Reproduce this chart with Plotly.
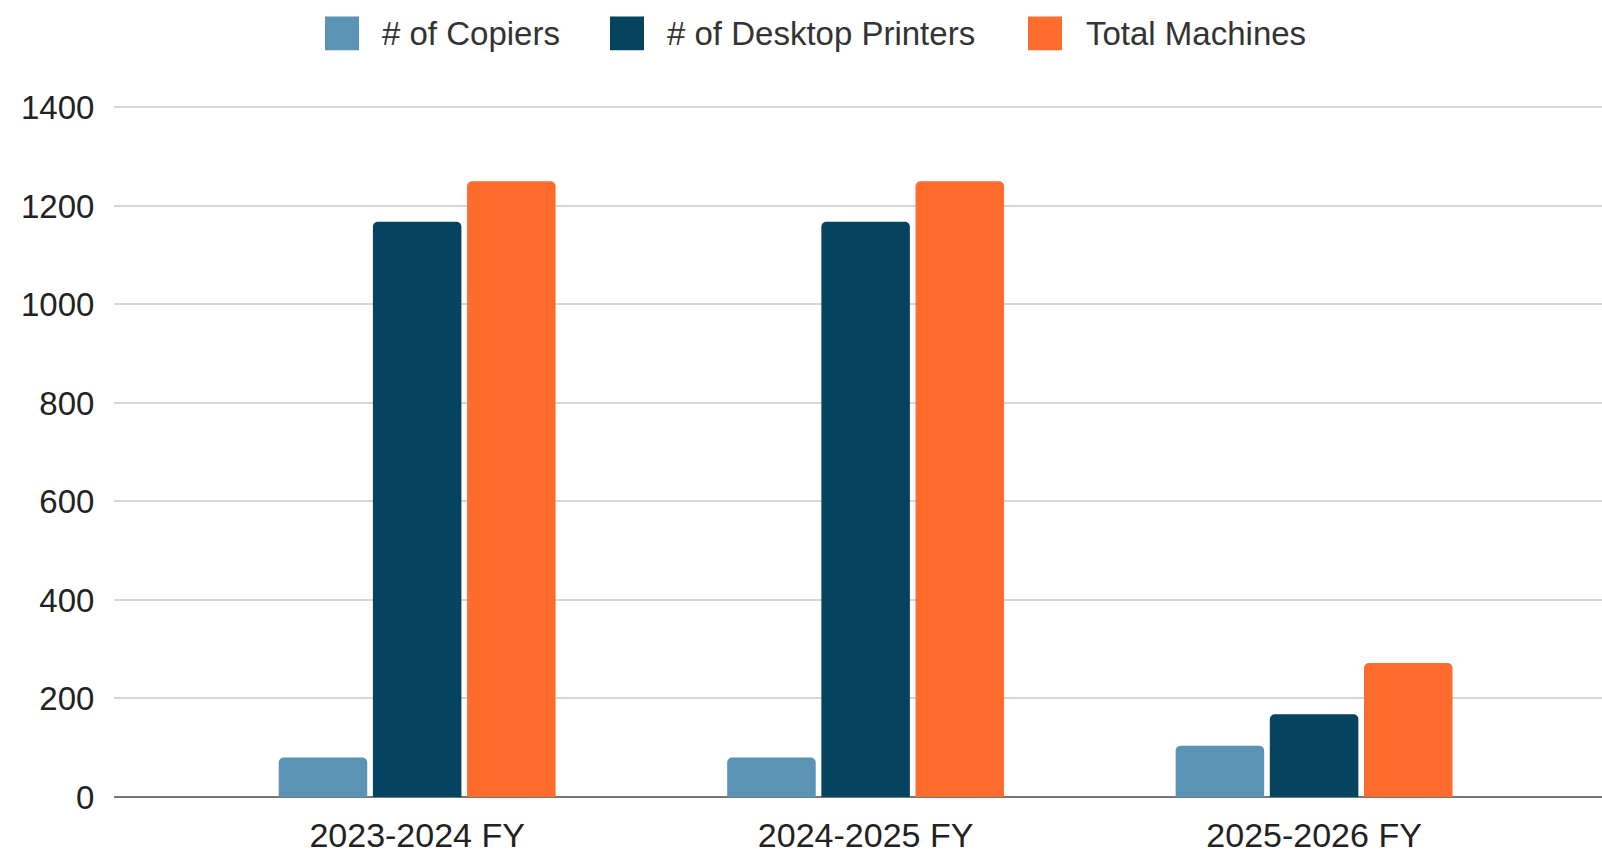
import plotly.graph_objects as go

categories = ["2023-2024 FY", "2024-2025 FY", "2025-2026 FY"]
copiers = [80, 80, 104]
desktop_printers = [1168, 1168, 168]
total_machines = [1250, 1250, 272]
y_ticks = [0, 200, 400, 600, 800, 1000, 1200, 1400]

series_names = ["# of Copiers", "# of Desktop Printers", "Total Machines"]
series_values = [copiers, desktop_printers, total_machines]
series_colors = ["#5a93b3", "#05435f", "#ff6d2e"]

FONT = "Liberation Sans, Arial, sans-serif"
W, H = 1602, 854
ML, MR, MT, MB = 114, 0, 105, 54
PW, PH = W - ML - MR, H - MT - MB

def px(x):
    return (x - ML) / PW

def py(y):
    return (H - MB - y) / PH

fig = go.Figure()
for name, vals, color in zip(series_names, series_values, series_colors):
    fig.add_trace(go.Bar(x=categories, y=vals, name=name, marker_color=color,
                         marker_line_width=0, showlegend=False))

# custom legend (large rounded swatches like the reference)
legend_square_left = [325, 610, 1028]
legend_text_left = [380, 665, 1084]
sq = 34
ly = 33
shapes = []
annotations = []
for name, color, sx, tx in zip(series_names, series_colors, legend_square_left, legend_text_left):
    shapes.append(dict(type="rect", xref="paper", yref="paper",
                       x0=px(sx), x1=px(sx + sq), y0=py(ly + sq / 2), y1=py(ly - sq / 2),
                       fillcolor=color, line=dict(width=0)))
    annotations.append(dict(text=name, xref="paper", yref="paper", x=px(tx), y=py(ly),
                            xanchor="left", yanchor="middle", showarrow=False,
                            font=dict(family=FONT, size=33, color="#333333")))

fig.update_layout(
    width=W, height=H,
    margin=dict(l=ML, r=MR, t=MT, b=MB),
    paper_bgcolor="white", plot_bgcolor="white",
    barmode="group", bargap=0.37, bargroupgap=0.06, barcornerradius=5,
    font=dict(family=FONT, size=33, color="#333333"),
    shapes=shapes, annotations=annotations,
)
fig.update_xaxes(range=[-0.676, 2.642], showgrid=False, showline=False, zeroline=False,
                 tickfont=dict(size=34, color="#222222"), ticks="outside", ticklen=8,
                 tickcolor="rgba(0,0,0,0)")
fig.update_yaxes(range=[0, 1405], tickvals=y_ticks, showgrid=True, gridcolor="#d6d6d6",
                 gridwidth=1.5, zeroline=True, zerolinecolor="#777777", zerolinewidth=2,
                 showline=False, tickfont=dict(size=33, color="#222222"),
                 ticks="outside", ticklen=12, tickcolor="rgba(0,0,0,0)")

fig.write_html("out.html")
